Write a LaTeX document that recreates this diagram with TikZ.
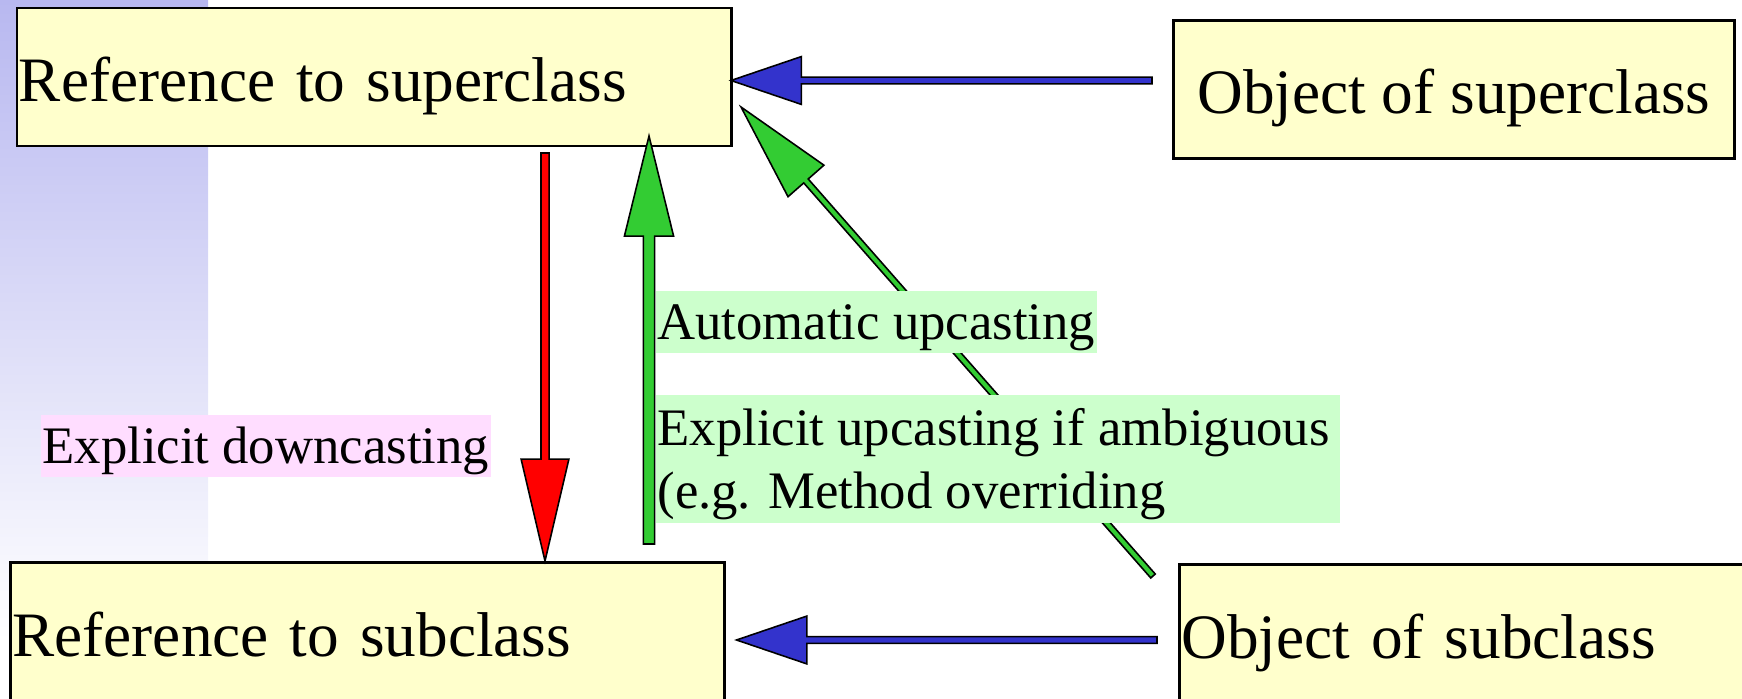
\documentclass[tikz,border=0pt]{standalone}
\usepackage{fontspec}
\setmainfont{Liberation Serif}
\usetikzlibrary{calc, math}
\definecolor{boxyellow}{RGB}{255,255,204}
\definecolor{castblue}{RGB}{51,51,204}
\definecolor{castgreen}{RGB}{51,204,51}
\definecolor{castred}{RGB}{255,0,0}
\definecolor{labelgreen}{RGB}{204,255,204}
\definecolor{labelpink}{RGB}{255,221,255}
\definecolor{stripeblue}{RGB}{184,184,240}

% block arrow from #1 to #2, fill #3, shaft half width #4, head half width #5, head length #6 (pt)
\newcommand{\blockarrow}[6]{%
  \draw[fill=#3, line width=0.45pt, line join=miter]
    let \p1=($(#2)-(#1)$), \n1={atan2(\y1,\x1)}, \n2={veclen(\x1,\y1)} in
    [shift={(#1)}, rotate=\n1]
    (0pt,-#4pt) -- (\n2-#6pt,-#4pt) -- (\n2-#6pt,-#5pt) -- (\n2,0pt)
    -- (\n2-#6pt,#5pt) -- (\n2-#6pt,#4pt) -- (0pt,#4pt) -- cycle;}

\begin{document}
\begin{tikzpicture}[x=0.1mm, y=-0.1mm,
  classbox/.style={draw, line width=0.8pt, fill=boxyellow, anchor=north west,
    font=\fontsize{18}{21}\selectfont, text height=18pt, text depth=4pt,
    inner xsep=0.2mm, inner ysep=0pt, minimum height=13.8mm},
  castlabel/.style={anchor=north west, inner xsep=0.5pt, inner ysep=0pt,
    font=\fontsize{15}{17.9}\selectfont, align=left}]
\tikzmath{
\W=1742;
\H=699;
\headw=6.8;
}
\useasboundingbox (0,0) rectangle (\W,\H);
\clip (0,0) rectangle (\W,\H);

% lavender stripe on the left
\shade[top color=stripeblue, bottom color=white] (0,0) rectangle (208,640);

\node[classbox, text width=71.05mm, align=left] (refsup) at (15.5,6.7) {Reference to superclass};
\node[classbox, minimum width=56.1mm] (objsup) at (1172,19) {Object of superclass};
\node[classbox, text width=71.0mm, align=left] (refsub) at (9,561) {Reference to subclass};
\node[classbox, text width=71.0mm, align=left] (objsub) at (1178,563) {Object of subclass};

\coordinate (supfrom) at (1152,80.5);
\coordinate (supto) at (731,80.5);
\coordinate (subfrom) at (1157,640);
\coordinate (subto) at (736.5,640);
\coordinate (downfrom) at (545,153);
\coordinate (downto) at (545,561);
\coordinate (upfrom) at (649,544);
\coordinate (upto) at (649,136);
\coordinate (diagfrom) at (1153,576);
\coordinate (diagto) at (741,107);

\blockarrow{supfrom}{supto}{castblue}{0.95}{\headw}{20}
\blockarrow{subfrom}{subto}{castblue}{0.95}{\headw}{20}
\blockarrow{downfrom}{downto}{castred}{1.15}{\headw}{29}
\blockarrow{upfrom}{upto}{castgreen}{1.6}{7}{28.5}
\blockarrow{diagfrom}{diagto}{castgreen}{0.85}{\headw}{28}

\node[castlabel, fill=labelgreen] (autoup) at (655,290)
  {\rule[-3.8pt]{0pt}{17.8pt}Automatic upcasting};
\node[castlabel, fill=labelgreen] (explup) at (655,394)
  {\rule{0pt}{14.5pt}Explicit upcasting if ambiguous\hspace*{2.5pt}\\(e.g. Method overriding\rule[-4pt]{0pt}{4pt}};
\node[castlabel, fill=labelpink] (expldown) at (40,414)
  {\rule[-3.8pt]{0pt}{17.8pt}Explicit downcasting};
\end{tikzpicture}
\end{document}
